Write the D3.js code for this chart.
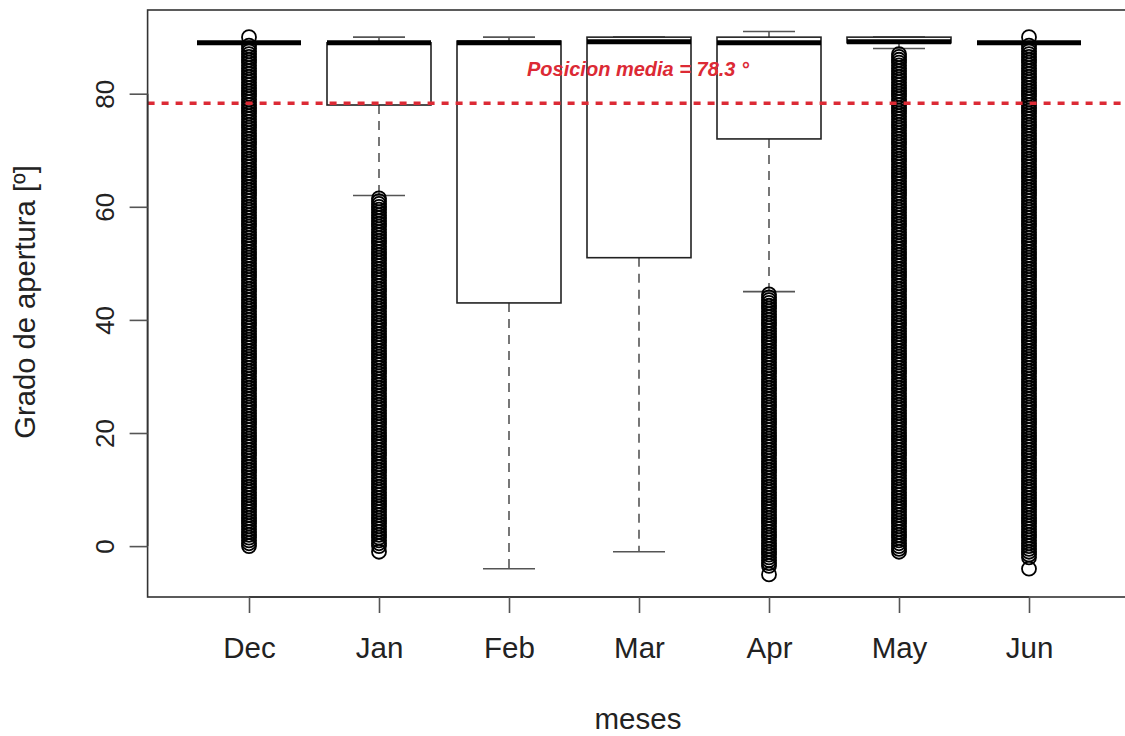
<!DOCTYPE html>
<html><head><meta charset="utf-8">
<script src="https://cdn.jsdelivr.net/npm/d3@7"></script>
<style>body{margin:0;background:#fff}svg{display:block;font-family:"Liberation Sans",Arial,sans-serif}</style>
</head><body><svg id="c" width="1125" height="736"></svg>
<script>
const months = ["Dec","Jan","Feb","Mar","Apr","May","Jun"];
const q1      = [89, 78, 43, 51, 72, 89, 89];
const median  = [89, 89, 89, 89.2, 89, 89.2, 89];
const q3      = [89, 89, 89.3, 90, 90, 90, 89];
const whiskLo = [89, 62, -4, -1, 45, 88, 89];
const whiskHi = [89, 90, 90, 90, 91, 90, 89];
const outDec = [0,0.5,1,1.5,2,2.5,3,3.5,4,4.5,5,5.5,6,6.5,7,7.5,8,8.5,9,9.5,10,10.5,11,11.5,12,12.5,13,13.5,14,14.5,15,15.5,16,16.5,17,17.5,18,18.5,19,19.5,20,20.5,21,21.5,22,22.5,23,23.5,24,24.5,25,25.5,26,26.5,27,27.5,28,28.5,29,29.5,30,30.5,31,31.5,32,32.5,33,33.5,34,34.5,35,35.5,36,36.5,37,37.5,38,38.5,39,39.5,40,40.5,41,41.5,42,42.5,43,43.5,44,44.5,45,45.5,46,46.5,47,47.5,48,48.5,49,49.5,50,50.5,51,51.5,52,52.5,53,53.5,54,54.5,55,55.5,56,56.5,57,57.5,58,58.5,59,59.5,60,60.5,61,61.5,62,62.5,63,63.5,64,64.5,65,65.5,66,66.5,67,67.5,68,68.5,69,69.5,70,70.5,71,71.5,72,72.5,73,73.5,74,74.5,75,75.5,76,76.5,77,77.5,78,78.5,79,79.5,80,80.5,81,81.5,82,82.5,83,83.5,84,84.5,85,85.5,86,86.5,87,87.5,88,88.5,90];
const outJan = [-1,0,0.5,1,1.5,2,2.5,3,3.5,4,4.5,5,5.5,6,6.5,7,7.5,8,8.5,9,9.5,10,10.5,11,11.5,12,12.5,13,13.5,14,14.5,15,15.5,16,16.5,17,17.5,18,18.5,19,19.5,20,20.5,21,21.5,22,22.5,23,23.5,24,24.5,25,25.5,26,26.5,27,27.5,28,28.5,29,29.5,30,30.5,31,31.5,32,32.5,33,33.5,34,34.5,35,35.5,36,36.5,37,37.5,38,38.5,39,39.5,40,40.5,41,41.5,42,42.5,43,43.5,44,44.5,45,45.5,46,46.5,47,47.5,48,48.5,49,49.5,50,50.5,51,51.5,52,52.5,53,53.5,54,54.5,55,55.5,56,56.5,57,57.5,58,58.5,59,59.5,60,60.5,61,61.5];
const outFeb = [];
const outMar = [];
const outApr = [-5,-3.5,-3,-2.5,-2,-1.5,-1,-0.5,0,0.5,1,1.5,2,2.5,3,3.5,4,4.5,5,5.5,6,6.5,7,7.5,8,8.5,9,9.5,10,10.5,11,11.5,12,12.5,13,13.5,14,14.5,15,15.5,16,16.5,17,17.5,18,18.5,19,19.5,20,20.5,21,21.5,22,22.5,23,23.5,24,24.5,25,25.5,26,26.5,27,27.5,28,28.5,29,29.5,30,30.5,31,31.5,32,32.5,33,33.5,34,34.5,35,35.5,36,36.5,37,37.5,38,38.5,39,39.5,40,40.5,41,41.5,42,42.5,43,43.5,44,44.5];
const outMay = [-1,-0.5,0,0.5,1,1.5,2,2.5,3,3.5,4,4.5,5,5.5,6,6.5,7,7.5,8,8.5,9,9.5,10,10.5,11,11.5,12,12.5,13,13.5,14,14.5,15,15.5,16,16.5,17,17.5,18,18.5,19,19.5,20,20.5,21,21.5,22,22.5,23,23.5,24,24.5,25,25.5,26,26.5,27,27.5,28,28.5,29,29.5,30,30.5,31,31.5,32,32.5,33,33.5,34,34.5,35,35.5,36,36.5,37,37.5,38,38.5,39,39.5,40,40.5,41,41.5,42,42.5,43,43.5,44,44.5,45,45.5,46,46.5,47,47.5,48,48.5,49,49.5,50,50.5,51,51.5,52,52.5,53,53.5,54,54.5,55,55.5,56,56.5,57,57.5,58,58.5,59,59.5,60,60.5,61,61.5,62,62.5,63,63.5,64,64.5,65,65.5,66,66.5,67,67.5,68,68.5,69,69.5,70,70.5,71,71.5,72,72.5,73,73.5,74,74.5,75,75.5,76,76.5,77,77.5,78,78.5,79,79.5,80,80.5,81,81.5,82,82.5,83,83.5,84,84.5,85,85.5,86,86.5,87];
const outJun = [-4,-2,-1.5,-1,-0.5,0,0.5,1,1.5,2,2.5,3,3.5,4,4.5,5,5.5,6,6.5,7,7.5,8,8.5,9,9.5,10,10.5,11,11.5,12,12.5,13,13.5,14,14.5,15,15.5,16,16.5,17,17.5,18,18.5,19,19.5,20,20.5,21,21.5,22,22.5,23,23.5,24,24.5,25,25.5,26,26.5,27,27.5,28,28.5,29,29.5,30,30.5,31,31.5,32,32.5,33,33.5,34,34.5,35,35.5,36,36.5,37,37.5,38,38.5,39,39.5,40,40.5,41,41.5,42,42.5,43,43.5,44,44.5,45,45.5,46,46.5,47,47.5,48,48.5,49,49.5,50,50.5,51,51.5,52,52.5,53,53.5,54,54.5,55,55.5,56,56.5,57,57.5,58,58.5,59,59.5,60,60.5,61,61.5,62,62.5,63,63.5,64,64.5,65,65.5,66,66.5,67,67.5,68,68.5,69,69.5,70,70.5,71,71.5,72,72.5,73,73.5,74,74.5,75,75.5,76,76.5,77,77.5,78,78.5,79,79.5,80,80.5,81,81.5,82,82.5,83,83.5,84,84.5,85,85.5,86,86.5,87,87.5,88,88.5,90];
const outliers = [outDec,outJan,outFeb,outMar,outApr,outMay,outJun];
const yTicks = [0,20,40,60,80];
const meanPos = 78.3;
const meanLabel = "Posicion media = 78.3 °";
const xTitle = "meses";
const yTitle = "Grado de apertura [º]";

const svg = d3.select("#c");
const x = d3.scaleLinear().domain([0.22, 7.78]).range([147.6, 1130.4]);
const y = d3.scaleLinear().domain([-9.0, 94.8]).range([597, 10]);
const bw = (x(1.8)-x(1));   // box width (0.8)
const cw = bw/2;            // staple width

const data = months.map((m,i)=>({m, i:i+1, q1:q1[i], med:median[i], q3:q3[i], lo:whiskLo[i], hi:whiskHi[i], out:outliers[i]}));

const g = svg.append("g");
data.forEach(d=>{
  const cx = x(d.i);
  g.append("line").attr("x1",cx).attr("x2",cx).attr("y1",y(d.q1)).attr("y2",y(d.lo))
    .attr("stroke","#555").attr("stroke-width",1.6).attr("stroke-dasharray","9,7");
  g.append("line").attr("x1",cx).attr("x2",cx).attr("y1",y(d.q3)).attr("y2",y(d.hi))
    .attr("stroke","#555").attr("stroke-width",1.6).attr("stroke-dasharray","9,7");
  g.append("line").attr("x1",cx-cw/2).attr("x2",cx+cw/2).attr("y1",y(d.lo)).attr("y2",y(d.lo))
    .attr("stroke","#555").attr("stroke-width",1.6);
  g.append("line").attr("x1",cx-cw/2).attr("x2",cx+cw/2).attr("y1",y(d.hi)).attr("y2",y(d.hi))
    .attr("stroke","#555").attr("stroke-width",1.6);
  g.append("rect").attr("x",cx-bw/2).attr("width",bw).attr("y",y(d.q3)).attr("height",y(d.q1)-y(d.q3))
    .attr("fill","#fff").attr("stroke","#222").attr("stroke-width",1.6);
  g.append("line").attr("x1",cx-bw/2).attr("x2",cx+bw/2).attr("y1",y(d.med)).attr("y2",y(d.med))
    .attr("stroke","#000").attr("stroke-width",5);
  g.selectAll(null).data(d.out).enter().append("circle")
    .attr("cx",cx).attr("cy",v=>y(v)).attr("r",7)
    .attr("fill","none").attr("stroke","#000").attr("stroke-width",1.8);
});

svg.append("line").attr("x1",x.range()[0]).attr("x2",1125).attr("y1",y(meanPos)).attr("y2",y(meanPos))
  .attr("stroke","#dc2a35").attr("stroke-width",3.5).attr("stroke-dasharray","7,7");
svg.append("text").attr("x",638).attr("y",76).attr("text-anchor","middle")
  .attr("fill","#dc2a35").attr("font-weight","bold").attr("font-style","italic").attr("font-size",20)
  .text(meanLabel);

svg.append("rect").attr("x",147.6).attr("y",10).attr("width",1130.4-147.6).attr("height",587)
  .attr("fill","none").attr("stroke","#333").attr("stroke-width",1.6);

const xa = svg.append("g").attr("transform","translate(0,597)")
  .call(d3.axisBottom(x).tickValues(d3.range(1,8)).tickFormat(i=>months[i-1]).tickSize(16).tickPadding(24));
xa.select(".domain").attr("d",`M${x(1)},0H${x(7)}`).attr("stroke","#333").attr("stroke-width",1.6);
xa.selectAll(".tick line").attr("stroke","#555").attr("stroke-width",1.6);
xa.selectAll("text").attr("font-size",29.5).attr("fill","#222").attr("font-family","Liberation Sans, Arial, sans-serif");

const ya = svg.append("g").attr("transform","translate(147.6,0)")
  .call(d3.axisLeft(y).tickValues(yTicks).tickSize(18).tickFormat(d3.format("d")));
ya.select(".domain").attr("d",`M0,${y(0)}V${y(80)}`).attr("stroke","#333").attr("stroke-width",1.6);
ya.selectAll(".tick line").attr("stroke","#555").attr("stroke-width",1.6);
ya.selectAll(".tick text").attr("font-size",26).attr("fill","#222").attr("font-family","Liberation Sans, Arial, sans-serif")
  .attr("text-anchor","middle").attr("x",null)
  .attr("transform","translate(-43,0) rotate(-90)").attr("dy","0.35em");

svg.append("text").attr("x",638).attr("y",729).attr("text-anchor","middle").attr("font-size",29.5).attr("fill","#222").text(xTitle);
svg.append("text").attr("transform","translate(35,302) rotate(-90)").attr("text-anchor","middle").attr("font-size",29.2).attr("fill","#222").text(yTitle);
</script></body></html>
